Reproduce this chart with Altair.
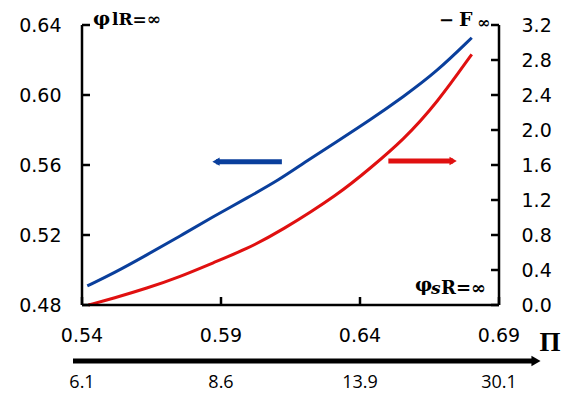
import altair as alt
import pandas as pd

# ---- data ----
pi_blue = [0.5419, 0.5513, 0.5633, 0.5753, 0.5872, 0.5992, 0.6112, 0.6196,
           0.6316, 0.6436, 0.6556, 0.6676, 0.6802]
phi_blue = [0.4909, 0.4981, 0.5086, 0.5194, 0.5305, 0.5410, 0.5518, 0.5610,
            0.5733, 0.5857, 0.5990, 0.6133, 0.6327]

pi_red = [0.5423, 0.5513, 0.5633, 0.5753, 0.5872, 0.5992, 0.6112, 0.6328,
          0.6436, 0.6556, 0.6676, 0.6802]
f_red = [0.0, 0.077, 0.191, 0.323, 0.483, 0.640, 0.838, 1.277,
         1.562, 1.886, 2.305, 2.865]

x_domain = [0.54, 0.69]
yl_domain = [0.48, 0.64]
yr_domain = [0.0, 3.2]
x_ticks = [0.54, 0.59, 0.64, 0.69]
x_ticks2 = ["6.1", "8.6", "13.9", "30.1"]
y_left_ticks = [0.48, 0.52, 0.56, 0.60, 0.64]
y_right_ticks = [0.0, 0.4, 0.8, 1.2, 1.6, 2.0, 2.4, 2.8, 3.2]

blue_arrow_x = [0.6119, 0.5882]   # tail, head
blue_arrow_y = [0.5619, 0.5619]
red_arrow_x = [0.6502, 0.6735]    # tail, head
red_arrow_y = [1.646, 1.646]

BLUE = "#0a3f9c"
RED = "#e01010"
FW, FH = 417, 280          # framed plot box size in px
M = 10                     # inner margin between view edge and frame
W, H = FW + 2 * M, FH + 2 * M
LFONT = "DejaVu Sans"
SERIF = "DejaVu Serif"


def padded(dom, px):
    span = dom[1] - dom[0]
    d = span * M / px
    return [dom[0] - d, dom[1] + d]


xs = alt.Scale(domain=padded(x_domain, FW), nice=False, zero=False)
ysL = alt.Scale(domain=padded(yl_domain, FH), nice=False, zero=False)
ysR = alt.Scale(domain=padded(yr_domain, FH), nice=False, zero=False)

axis_common = dict(
    title=None, tickSize=0, grid=False, domain=False,
    labelColor="black", labelFont=LFONT, labelFontSize=19, labelFlush=False,
    labelOverlap=False,
)

df_blue = pd.DataFrame({"pi": pi_blue, "v": phi_blue})
df_red = pd.DataFrame({"pi": pi_red, "v": f_red})
df_xt = pd.DataFrame({"pi": x_ticks, "lab": x_ticks2})
df_yl = pd.DataFrame({"v": y_left_ticks})
df_yr = pd.DataFrame({"v": y_right_ticks})
df_ba = pd.DataFrame({"pi": blue_arrow_x, "v": blue_arrow_y})
df_ra = pd.DataFrame({"pi": red_arrow_x, "v": red_arrow_y})
df_fl = pd.DataFrame({"pi": [x_domain[0]] * 2, "v": yl_domain})
df_fb = pd.DataFrame({"pi": x_domain, "v": [yl_domain[0]] * 2})
df_fr = pd.DataFrame({"pi": [x_domain[1]] * 2, "v": yr_domain})
one = pd.DataFrame({"a": [0]})

XN = alt.X("pi:Q", scale=xs, axis=None)
YL = alt.Y("v:Q", scale=ysL, axis=None)
YR = alt.Y("v:Q", scale=ysR, axis=None)

blue_line = alt.Chart(df_blue).mark_line(
    color=BLUE, strokeWidth=3, interpolate="basis"
).encode(
    x=XN,
    y=alt.Y("v:Q", scale=ysL, axis=alt.Axis(values=y_left_ticks, format=".2f",
                                             orient="left", labelPadding=11,
                                             **axis_common)),
)

red_line = alt.Chart(df_red).mark_line(
    color=RED, strokeWidth=3, interpolate="basis"
).encode(
    x=XN,
    y=alt.Y("v:Q", scale=ysR, axis=alt.Axis(values=y_right_ticks, format=".1f",
                                             orient="right", labelPadding=12,
                                             **axis_common)),
)

# frame lines along the domains
frame_left = alt.Chart(df_fl).mark_line(color="black", strokeWidth=2.5).encode(
    x=XN, y=YL
)
frame_bottom = alt.Chart(df_fb).mark_line(color="black", strokeWidth=2.5).encode(
    x=XN, y=YL
)
frame_right = alt.Chart(df_fr).mark_line(color="black", strokeWidth=2.5).encode(
    x=XN, y=YR
)

left_ticks = alt.Chart(df_yl).mark_rule(color="black", strokeWidth=2.5).encode(
    y=YL, x=alt.value(M), x2=alt.value(M + 8)
)
right_ticks = alt.Chart(df_yr).mark_rule(color="black", strokeWidth=2.5).encode(
    y=YR, x=alt.value(M + FW - 8), x2=alt.value(M + FW)
)
bottom_ticks = alt.Chart(df_xt).mark_rule(color="black", strokeWidth=2.5).encode(
    x=XN, y=alt.value(M + FH), y2=alt.value(M + FH - 8)
)

x_labels = alt.Chart(df_xt).mark_text(
    font=LFONT, fontSize=19, color="black", baseline="middle"
).encode(x=XN, y=alt.value(M + 311), text=alt.Text("pi:Q", format=".2f"))

sec_labels = alt.Chart(df_xt).mark_text(
    font="Open Sans", fontSize=18, color="black", baseline="middle"
).encode(x=XN, y=alt.value(M + 358), text="lab:N")

blue_arrow_shaft = alt.Chart(df_ba).mark_line(color=BLUE, strokeWidth=5).encode(
    x=XN, y=YL
)
blue_arrow_head = alt.Chart(df_ba.iloc[[1]]).mark_point(
    shape="triangle-left", filled=True, color=BLUE, size=70, opacity=1
).encode(x=XN, y=YL)

red_arrow_shaft = alt.Chart(df_ra).mark_line(color=RED, strokeWidth=5).encode(
    x=XN, y=YR
)
red_arrow_head = alt.Chart(df_ra.iloc[[1]]).mark_point(
    shape="triangle-right", filled=True, color=RED, size=70, opacity=1
).encode(x=XN, y=YR)

# bottom long arrow and Pi
axis_arrow = alt.Chart(one).mark_rule(color="black", strokeWidth=5).encode(
    x=alt.value(M - 9), x2=alt.value(M + 452), y=alt.value(M + 336)
)
axis_arrow_head = alt.Chart(one).mark_point(
    shape="triangle-right", filled=True, color="black", size=110, opacity=1
).encode(x=alt.value(M + 454), y=alt.value(M + 336))
pi_text = alt.Chart(one).mark_text(
    font="Liberation Serif", fontSize=27, fontWeight="bold", color="black",
    align="center", baseline="middle"
).encode(x=alt.value(M + 468), y=alt.value(M + 318), text=alt.value("Π"))


def txt(s, x, y, size, align="left", baseline="alphabetic", style="normal"):
    return alt.Chart(one).mark_text(
        font=SERIF, fontSize=size, fontWeight="bold", color="black",
        align=align, baseline=baseline, fontStyle=style
    ).encode(x=alt.value(M + x), y=alt.value(M + y), text=alt.value(s))


t_phil = txt("φ", 11, 0, 19)
t_phil_sub = txt("lR=∞", 30, 0, 17)
t_minus = txt("−", 357, 1, 18)
t_f = txt("F", 377, 1, 19)
t_f_sub = txt("∞", 395, 3, 16)
t_phis = txt("φ", 333, 266, 19)
t_phis_s = txt("s", 349, 269, 17, style="italic")
t_phis_sub = txt("R=∞", 359, 269, 18)

chart = alt.layer(
    blue_line, red_line,
    left_ticks, right_ticks, bottom_ticks, x_labels, sec_labels,
    blue_arrow_shaft, blue_arrow_head, red_arrow_shaft, red_arrow_head,
    axis_arrow, axis_arrow_head, pi_text,
    t_phil, t_phil_sub, t_minus, t_f, t_f_sub, t_phis, t_phis_s, t_phis_sub,
    frame_left, frame_bottom, frame_right,
).resolve_scale(
    y="independent"
).properties(
    width=W, height=H, autosize="none",
    padding={"left": 74 - M, "top": 17 - M, "right": 65 - M, "bottom": 88 - M},
).configure_view(strokeWidth=0)

chart.save("out.html", embed_options={"renderer": "svg", "actions": False})
